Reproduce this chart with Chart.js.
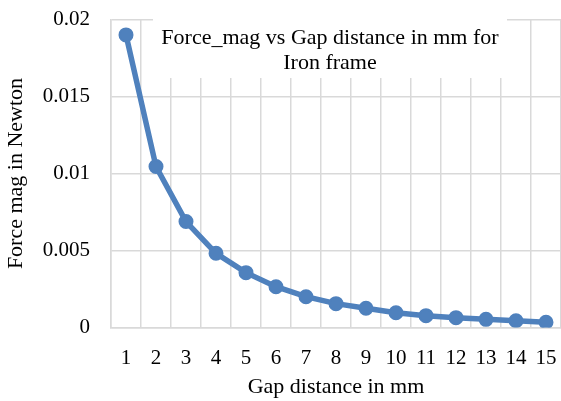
<!DOCTYPE html>
<html>
<head>
<meta charset="utf-8">
<script src="https://cdn.jsdelivr.net/npm/chart.js@4"></script>
<style>
  html, body { margin: 0; padding: 0; background: #ffffff; }
  #wrap { width: 561px; height: 401px; position: relative; }
</style>
</head>
<body>
<div id="wrap"><canvas id="forceChart"></canvas></div>
<script>
// gap distance (mm) and measured force (N)
const gapLabels = ['1', '2', '3', '4', '5', '6', '7', '8', '9', '10', '11', '12', '13', '14', '15'];
const forceValues = [0.0190, 0.01045, 0.00688, 0.00482, 0.00356, 0.00265, 0.00200, 0.00155,
                     0.00125, 0.00096, 0.00077, 0.00064, 0.00053, 0.00044, 0.00034];
const yTicks = [0, 0.005, 0.01, 0.015, 0.02];
const titleLines = ['Force_mag vs Gap distance in mm for', 'Iron frame'];

const serif = '"Liberation Serif", "DejaVu Serif", serif';
const gridColor = '#d9d9d9';
const lineColor = '#4f81bd';

// title sits inside the plot area on a white box, like the original
const innerTitle = {
    id: 'innerTitle',
    beforeDatasetsDraw(chart) {
        const ctx = chart.ctx;
        ctx.save();
        ctx.fillStyle = '#ffffff';
        ctx.fillRect(153, 17, 354, 61);
        ctx.fillStyle = '#000000';
        ctx.font = '22px ' + serif;
        ctx.textAlign = 'center';
        ctx.textBaseline = 'alphabetic';
        ctx.fillText(titleLines[0], 330, 44);
        ctx.fillText(titleLines[1], 330, 69);
        ctx.restore();
    }
};

var ctx = document.getElementById('forceChart').getContext('2d');

var forceChart = new Chart(ctx, {
    type: 'line',
    data: {
        labels: gapLabels,
        datasets: [{
            label: 'Force_mag',
            data: forceValues,
            borderColor: lineColor,
            backgroundColor: lineColor,
            borderWidth: 5.5,
            pointRadius: 6.5,
            pointBorderWidth: 2,
            pointBackgroundColor: lineColor,
            pointBorderColor: lineColor,
            fill: false,
            tension: 0
        }]
    },
    options: {
        responsive: true,
        maintainAspectRatio: false,
        animation: false,
        layout: { autoPadding: false, padding: { top: 19.5, right: 0, left: 0, bottom: 0 } },
        plugins: {
            legend: { display: false },
            title: { display: false },
            tooltip: { enabled: false }
        },
        scales: {
            x: {
                type: 'category',
                offset: true,
                grid: { offset: true, color: gridColor, lineWidth: 1.5, drawTicks: false },
                border: { color: gridColor, width: 1.5 },
                ticks: {
                    color: '#000000',
                    font: { family: serif, size: 21 },
                    padding: 18,
                    maxRotation: 0,
                    autoSkip: false
                },
                title: {
                    display: true,
                    text: 'Gap distance in mm',
                    color: '#000000',
                    font: { family: serif, size: 22 },
                    padding: { top: 0, bottom: 1 }
                },
                afterFit(scale) {
                    scale.height = 73.5;
                    scale.paddingLeft = 0;
                    scale.paddingRight = 0;
                }
            },
            y: {
                min: 0,
                max: 0.02,
                afterBuildTicks(scale) {
                    scale.ticks = yTicks.map(v => ({ value: v }));
                },
                grid: { color: gridColor, lineWidth: 1.5, drawTicks: false },
                border: { color: gridColor, width: 1.5 },
                ticks: {
                    color: '#000000',
                    font: { family: serif, size: 21 },
                    padding: 21,
                    callback: function (value) { return String(Number(value.toFixed(3))); }
                },
                title: {
                    display: true,
                    text: 'Force mag in Newton',
                    color: '#000000',
                    font: { family: serif, size: 22 },
                    padding: { top: 3, bottom: 0 }
                },
                afterFit(scale) {
                    scale.width = 111;
                    scale.paddingTop = 0;
                    scale.paddingBottom = 0;
                }
            }
        }
    },
    plugins: [innerTitle]
});
</script>
</body>
</html>
